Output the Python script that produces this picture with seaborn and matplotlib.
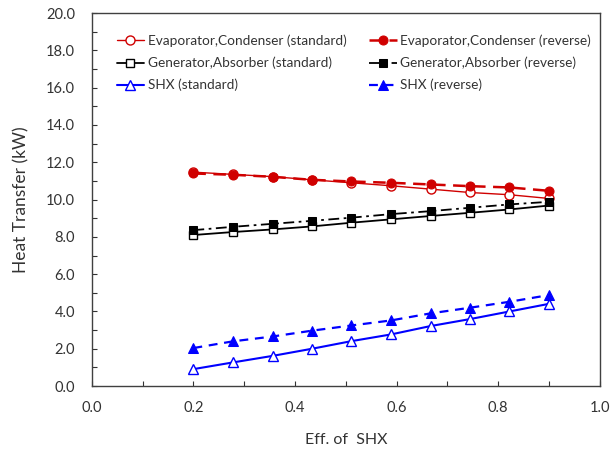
import matplotlib
matplotlib.use("Agg")
import matplotlib.pyplot as plt
import seaborn as sns
import pandas as pd
from matplotlib.ticker import MultipleLocator, FormatStrFormatter

sns.set_theme(style="white")
plt.rcParams['font.family'] = ['Lato', 'DejaVu Sans']

eff = [0.2, 0.278, 0.356, 0.433, 0.511, 0.589, 0.667, 0.744, 0.822, 0.9]
evap_std = [11.47, 11.35, 11.23, 11.06, 10.90, 10.74, 10.56, 10.38, 10.26, 10.06]
evap_rev = [11.40, 11.33, 11.22, 11.06, 10.97, 10.90, 10.81, 10.72, 10.65, 10.47]
gen_std = [8.10, 8.26, 8.40, 8.56, 8.76, 8.94, 9.12, 9.29, 9.47, 9.68]
gen_rev = [8.36, 8.54, 8.70, 8.86, 9.03, 9.22, 9.38, 9.56, 9.74, 9.88]
shx_std = [0.91, 1.27, 1.62, 2.00, 2.41, 2.77, 3.22, 3.59, 4.00, 4.41]
shx_rev = [2.04, 2.40, 2.66, 2.97, 3.25, 3.52, 3.90, 4.20, 4.52, 4.88]

labels = ["Evaporator,Condenser (standard)", "Evaporator,Condenser (reverse)",
          "Generator,Absorber (standard)", "Generator,Absorber (reverse)",
          "SHX (standard)", "SHX (reverse)"]

red = "#D00000"
blue = "#0000FF"
series = [
    (evap_std, dict(color=red, linestyle="-", linewidth=1.0, marker="o", markerfacecolor="white", markeredgecolor=red, markersize=6.5, markeredgewidth=1.0)),
    (evap_rev, dict(color=red, linestyle=(0, (5, 3)), linewidth=1.8, marker="o", markerfacecolor=red, markeredgecolor=red, markersize=6.5)),
    (gen_std, dict(color="black", linestyle="-", linewidth=1.3, marker="s", markerfacecolor="white", markeredgecolor="black", markersize=6.0, markeredgewidth=1.0)),
    (gen_rev, dict(color="black", linestyle=(0, (6, 2.5, 1.5, 2.5)), linewidth=1.3, marker="s", markerfacecolor="black", markeredgecolor="black", markersize=6.0)),
    (shx_std, dict(color=blue, linestyle="-", linewidth=1.5, marker="^", markerfacecolor="white", markeredgecolor=blue, markersize=7, markeredgewidth=1.0)),
    (shx_rev, dict(color=blue, linestyle=(0, (4, 3)), linewidth=1.6, marker="^", markerfacecolor=blue, markeredgecolor=blue, markersize=7)),
]

fig = plt.figure(figsize=(6.12, 4.5), dpi=100)
ax = fig.add_axes([0.150, 0.142, 0.830, 0.829])

for lab, (vals, kw) in zip(labels, series):
    df = pd.DataFrame({"x": eff, "y": vals})
    sns.lineplot(data=df, x="x", y="y", ax=ax, label=lab, **kw)

ax.set_xlim(0, 1.0)
ax.set_ylim(0, 20)
ax.xaxis.set_major_locator(MultipleLocator(0.2))
ax.xaxis.set_minor_locator(MultipleLocator(0.1))
ax.yaxis.set_major_locator(MultipleLocator(2))
ax.yaxis.set_minor_locator(MultipleLocator(1))
ax.xaxis.set_major_formatter(FormatStrFormatter("%.1f"))
ax.yaxis.set_major_formatter(FormatStrFormatter("%.1f"))
ax.tick_params(which="both", direction="in", length=3.5, width=0.8, color="#333333",
               labelsize=10.5, labelcolor="#333333", left=True, bottom=True, top=False, right=False)
ax.tick_params(axis="x", pad=11)
ax.tick_params(axis="y", pad=12)
for s in ax.spines.values():
    s.set_color("#404040")
    s.set_linewidth(1.0)

ax.set_xlabel("Eff. of  SHX", fontsize=11.5, color="#333333", labelpad=13)
ax.set_ylabel("Heat Transfer (kW)", fontsize=12.5, color="#333333", labelpad=12)

handles, labs = ax.get_legend_handles_labels()
order = [0, 2, 4, 1, 3, 5]
ax.legend([handles[i] for i in order], [labs[i] for i in order],
          ncol=2, frameon=False, loc="upper left", bbox_to_anchor=(0.049, 0.942),
          borderaxespad=0, borderpad=0,
          fontsize=9.8, handlelength=2.0, handletextpad=0.27, columnspacing=1.7,
          labelspacing=0.7, labelcolor="#333333")

fig.savefig("out.png", dpi=100)
